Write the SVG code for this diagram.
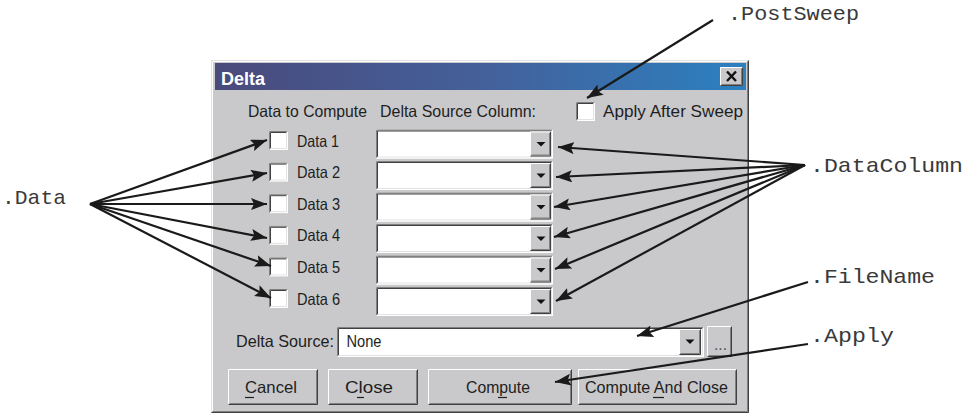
<svg xmlns="http://www.w3.org/2000/svg" width="967" height="415" viewBox="0 0 967 415">
<style>
.ui{font-family:"Liberation Sans",Arial,sans-serif;font-size:16.5px;fill:#1e1e1e}
.ttl{font-family:"Liberation Sans",Arial,sans-serif;font-size:18px;font-weight:bold;fill:#fff}
.mono{font-family:"Liberation Mono","Courier New",monospace;font-size:21px;fill:#3a3a3a}
.face{fill:#c9c9cb}
.hi{fill:none;stroke:#fff;stroke-width:1}
.sh{fill:none;stroke:#808080;stroke-width:1}
.dk{fill:none;stroke:#404040;stroke-width:1}
.lt{fill:none;stroke:#e2e2e2;stroke-width:1}
.ul{stroke:#1e1e1e;stroke-width:1.2}
.con{fill:none;stroke:#1a1a1a;stroke-width:2.2;marker-end:url(#ah)}
</style>
<defs>
<marker id="ah" markerUnits="userSpaceOnUse" markerWidth="18" markerHeight="12" refX="16" refY="6" orient="auto">
<path d="M0,0 L16,6 L0,12 L3,6 z" fill="#1a1a1a"/>
</marker>
<linearGradient id="tb" x1="0" y1="0" x2="1" y2="0">
<stop offset="0" stop-color="#4a4a7c"/>
<stop offset="0.5" stop-color="#44609a"/>
<stop offset="1" stop-color="#2c80c0"/>
</linearGradient>
<g id="chk">
<rect x="0" y="0" width="19" height="19" fill="#fff"/>
<path class="sh" d="M0.5,18.5 V0.5 H18.5"/>
<path class="dk" d="M1.5,17.5 V1.5 H17.5"/>
<path class="lt" d="M1.5,17.5 H17.5 V1.5"/>
</g>
<g id="combo">
<rect x="0" y="0" width="177" height="29" fill="#fff"/>
<path class="sh" d="M0.5,28.5 V0.5 H176.5"/>
<path class="dk" d="M1.5,27.5 V1.5 H175.5"/>
<path class="hi" d="M0.5,28.5 H176.5 V0.5"/>
<path class="lt" d="M1.5,27.5 H175.5 V1.5"/>
<rect class="face" x="154" y="2" width="21" height="25"/>
<path class="hi" d="M154.5,26.5 V2.5 H174.5"/>
<path class="dk" d="M154.5,26.5 H174.5 V2.5"/>
<path class="sh" d="M155.5,25.5 H173.5 V3.5"/>
<path d="M160.5,12.5 L169.5,12.5 L165,17 z" fill="#111"/>
</g>
</defs>

<g id="dialog">
<rect class="face" x="211" y="60" width="538" height="353"/>
<path class="lt" d="M211.5,412.5 V60.5 H748.5"/>
<path class="hi" d="M212.5,411.5 V61.5 H747.5"/>
<path class="dk" d="M211.5,412.5 H748.5 V60.5"/>
<path class="sh" d="M212.5,411.5 H747.5 V61.5"/>
<rect x="215" y="63" width="531" height="27" fill="url(#tb)"/>
<text class="ttl" x="221" y="85" textLength="44" lengthAdjust="spacingAndGlyphs">Delta</text>
<g id="close-x">
<rect class="face" x="720" y="67" width="23" height="19"/>
<path class="hi" d="M720.5,85.5 V67.5 H742.5"/>
<path class="dk" d="M720.5,85.5 H742.5 V67.5"/>
<path class="sh" d="M721.5,84.5 H741.5 V68.5"/>
<path d="M727,71.5 L736,81 M736,71.5 L727,81" stroke="#111" stroke-width="2.4"/>
</g>
<text class="ui" x="248" y="117" textLength="119" lengthAdjust="spacingAndGlyphs">Data to Compute</text>
<text class="ui" x="380" y="117" textLength="156" lengthAdjust="spacingAndGlyphs">Delta Source Column:</text>
</g>

<g id="apply-after-sweep">
<use href="#chk" x="576" y="102"/>
<text class="ui" x="603" y="117" textLength="140" lengthAdjust="spacingAndGlyphs">Apply After Sweep</text>
</g>

<g id="data1"><use href="#chk" x="269" y="131"/><text class="ui" x="297" y="146.5" textLength="42" lengthAdjust="spacingAndGlyphs">Data 1</text></g>
<g id="data2"><use href="#chk" x="269" y="162.6"/><text class="ui" x="297" y="178.1" textLength="43" lengthAdjust="spacingAndGlyphs">Data 2</text></g>
<g id="data3"><use href="#chk" x="269" y="194.2"/><text class="ui" x="297" y="209.7" textLength="43" lengthAdjust="spacingAndGlyphs">Data 3</text></g>
<g id="data4"><use href="#chk" x="269" y="225.8"/><text class="ui" x="297" y="241.3" textLength="43" lengthAdjust="spacingAndGlyphs">Data 4</text></g>
<g id="data5"><use href="#chk" x="269" y="257.4"/><text class="ui" x="297" y="272.9" textLength="43" lengthAdjust="spacingAndGlyphs">Data 5</text></g>
<g id="data6"><use href="#chk" x="269" y="289"/><text class="ui" x="297" y="304.5" textLength="43" lengthAdjust="spacingAndGlyphs">Data 6</text></g>

<g id="col1"><use href="#combo" x="376" y="129.5"/></g>
<g id="col2"><use href="#combo" x="376" y="161"/></g>
<g id="col3"><use href="#combo" x="376" y="192.5"/></g>
<g id="col4"><use href="#combo" x="376" y="224"/></g>
<g id="col5"><use href="#combo" x="376" y="255.5"/></g>
<g id="col6"><use href="#combo" x="376" y="287"/></g>

<g id="delta-source">
<text class="ui" x="236" y="347" textLength="98" lengthAdjust="spacingAndGlyphs">Delta Source:</text>
<rect x="337" y="327" width="367" height="30" fill="#fff"/>
<path class="sh" d="M337.5,356.5 V327.5 H703.5"/>
<path class="dk" d="M338.5,355.5 V328.5 H702.5"/>
<path class="hi" d="M337.5,356.5 H703.5 V327.5"/>
<path class="lt" d="M338.5,355.5 H702.5 V328.5"/>
<text class="ui" x="346.5" y="347" textLength="35" lengthAdjust="spacingAndGlyphs">None</text>
<rect class="face" x="679" y="329" width="22" height="26"/>
<path class="hi" d="M679.5,354.5 V329.5 H700.5"/>
<path class="dk" d="M679.5,354.5 H700.5 V329.5"/>
<path class="sh" d="M680.5,353.5 H699.5 V330.5"/>
<path d="M685.5,339.5 L694.5,339.5 L690,344 z" fill="#111"/>
</g>

<g id="browse">
<rect class="face" x="707" y="326" width="25" height="31"/>
<path class="hi" d="M707.5,356.5 V326.5 H731.5"/>
<path class="dk" d="M707.5,356.5 H731.5 V326.5"/>
<path class="sh" d="M708.5,355.5 H730.5 V327.5"/>
<text class="ui" x="714" y="350" style="fill:#555" textLength="13" lengthAdjust="spacingAndGlyphs">...</text>
</g>

<g id="btn-cancel">
<rect class="face" x="228" y="369" width="90" height="36"/>
<path class="hi" d="M228.5,404.5 V369.5 H317.5"/>
<path class="dk" d="M228.5,404.5 H317.5 V369.5"/>
<path class="sh" d="M229.5,403.5 H316.5 V370.5"/>
<text class="ui" x="245" y="393" textLength="52" lengthAdjust="spacingAndGlyphs">Cancel</text>
<line class="ul" x1="245" y1="397.5" x2="254" y2="397.5"/>
</g>
<g id="btn-close">
<rect class="face" x="328" y="369" width="90" height="36"/>
<path class="hi" d="M328.5,404.5 V369.5 H417.5"/>
<path class="dk" d="M328.5,404.5 H417.5 V369.5"/>
<path class="sh" d="M329.5,403.5 H416.5 V370.5"/>
<text class="ui" x="345" y="393" textLength="48" lengthAdjust="spacingAndGlyphs">Close</text>
<line class="ul" x1="357" y1="397.5" x2="364" y2="397.5"/>
</g>
<g id="btn-compute">
<rect class="face" x="428" y="369" width="144" height="36"/>
<path class="hi" d="M428.5,404.5 V369.5 H571.5"/>
<path class="dk" d="M428.5,404.5 H571.5 V369.5"/>
<path class="sh" d="M429.5,403.5 H570.5 V370.5"/>
<text class="ui" x="466" y="393" textLength="64" lengthAdjust="spacingAndGlyphs">Compute</text>
<line class="ul" x1="498" y1="397.5" x2="507" y2="397.5"/>
</g>
<g id="btn-compute-close">
<rect class="face" x="578" y="369" width="159" height="36"/>
<path class="hi" d="M578.5,404.5 V369.5 H736.5"/>
<path class="dk" d="M578.5,404.5 H736.5 V369.5"/>
<path class="sh" d="M579.5,403.5 H735.5 V370.5"/>
<text class="ui" x="585" y="393" textLength="143" lengthAdjust="spacingAndGlyphs">Compute And Close</text>
<line class="ul" x1="653" y1="397.5" x2="664" y2="397.5"/>
</g>

<g id="lbl-postsweep"><text class="mono" x="728" y="20" textLength="131" lengthAdjust="spacingAndGlyphs">.PostSweep</text></g>
<g id="lbl-data"><text class="mono" x="2" y="204" textLength="64" lengthAdjust="spacingAndGlyphs">.Data</text></g>
<g id="lbl-datacolumn"><text class="mono" x="810" y="172" textLength="153" lengthAdjust="spacingAndGlyphs">.DataColumn</text></g>
<g id="lbl-filename"><text class="mono" x="810" y="283" textLength="125" lengthAdjust="spacingAndGlyphs">.FileName</text></g>
<g id="lbl-apply"><text class="mono" x="810" y="342" textLength="84" lengthAdjust="spacingAndGlyphs">.Apply</text></g>

<g id="connectors">
<path class="con" d="M713,20 L587,98"/>
<path class="con" d="M90,204 L267,140"/>
<path class="con" d="M90,204 L267,173"/>
<path class="con" d="M90,204 L267,204"/>
<path class="con" d="M90,204 L267,238"/>
<path class="con" d="M90,204 L271,266"/>
<path class="con" d="M90,204 L271,298"/>
<path class="con" d="M805,165 L558,147"/>
<path class="con" d="M805,165 L556,177"/>
<path class="con" d="M805,165 L554,207"/>
<path class="con" d="M805,165 L554,237"/>
<path class="con" d="M805,165 L555,269"/>
<path class="con" d="M805,165 L556,301"/>
<path class="con" d="M808,282 L637,336"/>
<path class="con" d="M808,344 L555,382"/>
</g>
</svg>
